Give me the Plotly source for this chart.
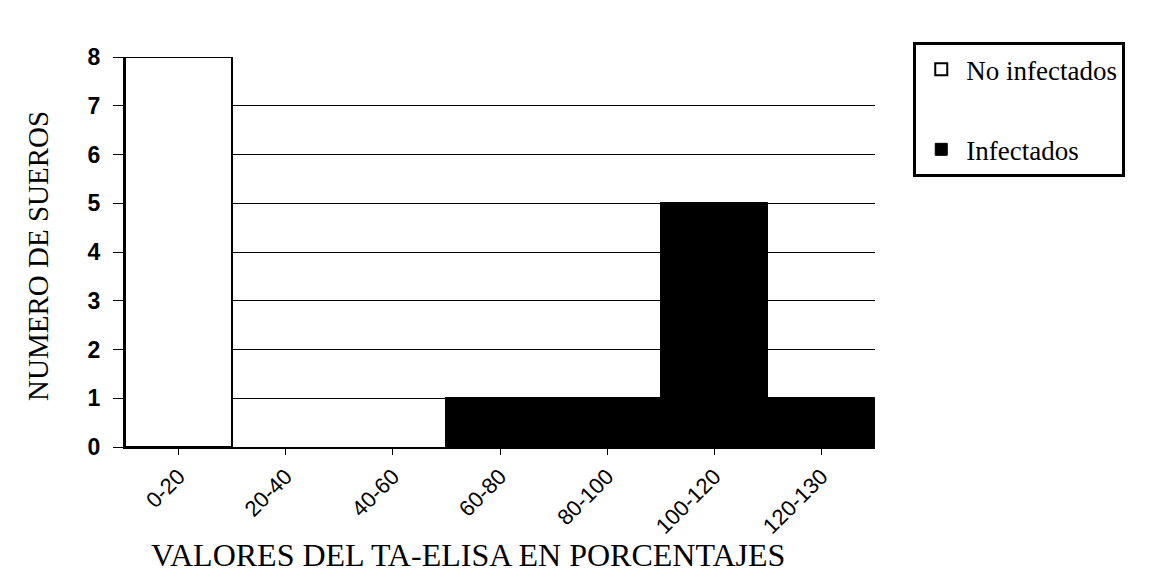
import plotly.graph_objects as go

categories = ["0-20", "20-40", "40-60", "60-80", "80-100", "100-120", "120-130"]
no_infectados = [8, None, None, None, None, None, None]
infectados = [None, None, None, 1, 1, 5, 1]
y_ticks = [0, 1, 2, 3, 4, 5, 6, 7, 8]

fig = go.Figure()
fig.add_trace(go.Bar(
    x=categories, y=no_infectados, name="No infectados",
    marker=dict(color="white", line=dict(color="black", width=2)),
    legendgroup="a",
))
fig.add_trace(go.Bar(
    x=categories, y=infectados, name="Infectados",
    marker=dict(color="black", line=dict(color="black", width=1)),
    legendgroup="b",
))

# page body has an 8px margin; figure sized to fit the 1176x585 window
fig.update_layout(
    width=1160, height=569,
    paper_bgcolor="white", plot_bgcolor="white",
    barmode="overlay", bargap=0.0,
    margin=dict(l=117, r=293, t=49, b=130, autoexpand=False),
    showlegend=True,
    legend=dict(
        x=1.051, y=1.038, xanchor="left", yanchor="top",
        font=dict(family="Liberation Serif", size=27, color="black"),
        bordercolor="black", borderwidth=3, bgcolor="white",
        traceorder="grouped", tracegroupgap=42,
        itemwidth=40,
    ),
    xaxis=dict(
        type="category", tickangle=-45, automargin=False,
        tickfont=dict(family="Liberation Sans", size=22, color="black"),
        showline=True, linecolor="black", linewidth=2,
        ticks="outside", ticklen=6, tickcolor="black",
        showgrid=False,
    ),
    yaxis=dict(
        range=[0, 8], tickvals=y_ticks, automargin=False,
        tickfont=dict(family="Liberation Sans", size=23, color="black", weight="bold"),
        showline=True, linecolor="black", linewidth=2,
        ticks="outside", ticklen=10, tickcolor="black",
        ticklabelstandoff=8,
        showgrid=True, gridcolor="black", gridwidth=1.2,
        zeroline=False,
    ),
    annotations=[
        dict(text="VALORES DEL TA-ELISA EN PORCENTAJES", xref="paper", yref="paper",
             x=0.457, y=-0.278, xanchor="center", yanchor="middle", showarrow=False,
             font=dict(family="Liberation Serif", size=32, color="black")),
        dict(text="NUMERO DE SUEROS", xref="paper", yref="paper",
             x=-0.116, y=0.49, xanchor="center", yanchor="middle", showarrow=False,
             textangle=-90,
             font=dict(family="Liberation Serif", size=29, color="black")),
    ],
)

fig.write_html("out.html")
